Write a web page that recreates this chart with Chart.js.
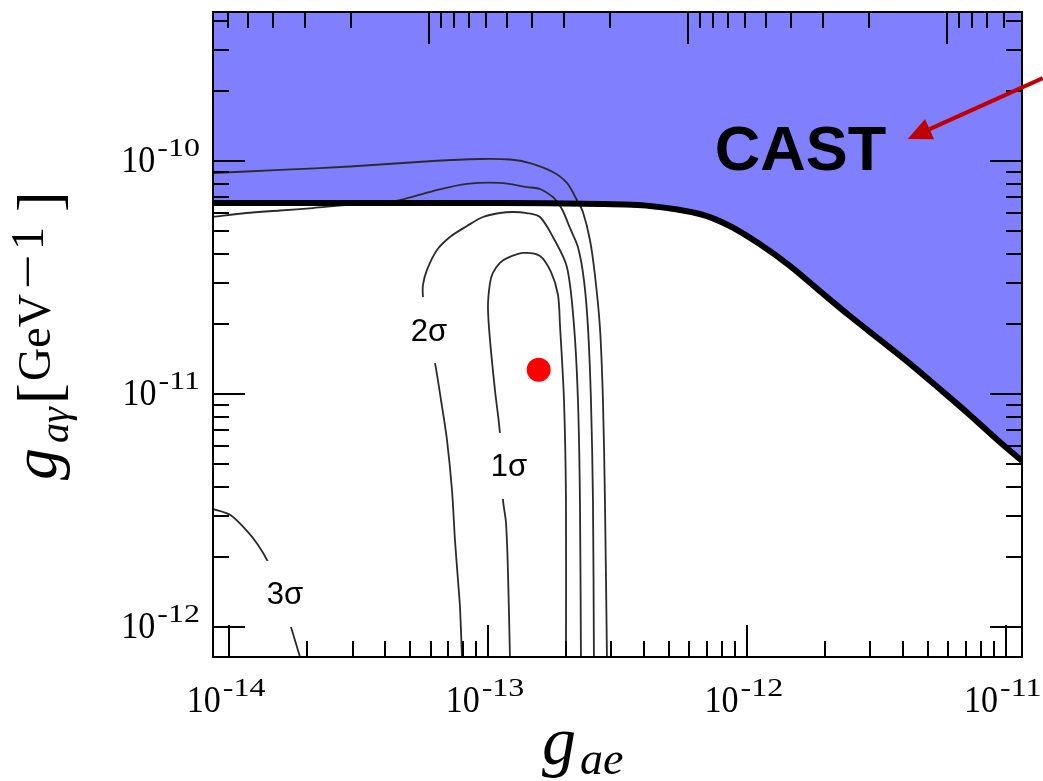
<!DOCTYPE html>
<html>
<head>
<meta charset="utf-8">
<script src="https://cdn.jsdelivr.net/npm/chart.js@4.4.1/dist/chart.umd.min.js"></script>
<style>
  html, body { margin: 0; padding: 0; background: #fff; }
  #wrap { width: 1043px; height: 781px; position: relative; }
</style>
</head>
<body>
<div id="wrap"><canvas id="chart"></canvas></div>
<script>
// Axis ranges (g_ae horizontally, g_a-gamma vertically, both log)
const X_MIN = 8.67e-15, X_MAX = 1.155e-11;
const Y_MIN = 7.43e-13, Y_MAX = 4.36e-10;

// Labelled decades
const xTickValues = [1e-14, 1e-13, 1e-12, 1e-11];
const xTickExponents = ['-14', '-13', '-12', '-11'];
const yTickValues = [1e-12, 1e-11, 1e-10];
const yTickExponents = ['-12', '-11', '-10'];

// Top frame carries a reciprocal log axis; its unit sits at this g_ae
const TOP_AXIS_UNIT = 5.92e-14;

// CAST exclusion boundary (region above is excluded)
const castX = [8.67e-15, 2.93e-14, 1.11e-13, 2.71e-13, 4.22e-13, 6.58e-13, 8.59e-13, 1.12e-12, 1.47e-12,
  1.91e-12, 2.50e-12, 3.26e-12, 4.26e-12, 5.56e-12, 7.26e-12, 9.48e-12, 1.155e-11];
const castY = [6.60e-11, 6.60e-11, 6.60e-11, 6.54e-11, 6.41e-11, 5.92e-11, 5.26e-11, 4.40e-11, 3.54e-11,
  2.77e-11, 2.16e-11, 1.71e-11, 1.35e-11, 1.05e-11, 8.13e-12, 6.22e-12, 5.16e-12];

// Upper contours running in from the left edge
const upperOuterX = [8.67e-15, 1.574e-14, 2.932e-14, 6.133e-14, 9.314e-14, 1.216e-13, 1.453e-13, 1.782e-13,
  2.018e-13, 2.206e-13, 2.327e-13, 2.477e-13, 2.589e-13, 2.706e-13, 2.780e-13, 2.830e-13, 2.881e-13];
const upperOuterY = [8.88e-11, 9.15e-11, 9.47e-11, 1.00e-10, 1.02e-10, 1.015e-10, 9.80e-11, 8.97e-11,
  8.05e-11, 6.80e-11, 6.04e-11, 4.58e-11, 3.24e-11, 1.94e-11, 9.42e-12, 3.51e-12, 7.43e-13];

const upperInnerX = [8.67e-15, 1.163e-14, 1.574e-14, 2.110e-14, 2.830e-14, 3.662e-14, 4.573e-14, 6.133e-14,
  8.296e-14, 1.112e-13, 1.414e-13, 1.588e-13, 1.782e-13, 1.864e-13, 1.948e-13, 2.073e-13, 2.226e-13,
  2.348e-13, 2.433e-13, 2.499e-13, 2.544e-13, 2.566e-13];
const upperInnerY = [5.75e-11, 5.98e-11, 6.13e-11, 6.28e-11, 6.47e-11, 6.57e-11, 6.80e-11, 7.43e-11,
  7.97e-11, 8.05e-11, 7.73e-11, 7.58e-11, 7.00e-11, 6.60e-11, 6.10e-11, 5.16e-11, 4.27e-11,
  3.08e-11, 1.94e-11, 9.42e-12, 3.51e-12, 7.43e-13];

// 2 sigma contour, from the bottom edge up and back down
const twoSigmaX = [7.936e-14, 7.796e-14, 7.659e-14, 7.457e-14, 7.261e-14, 6.945e-14, 6.585e-14, 6.244e-14,
  5.97e-14, 5.71e-14, 5.61e-14, 5.61e-14, 5.814e-14, 6.355e-14, 7.133e-14, 8.296e-14, 9.566e-14,
  1.112e-13, 1.249e-13, 1.414e-13, 1.588e-13, 1.782e-13, 2.018e-13, 2.148e-13, 2.226e-13, 2.266e-13, 2.286e-13];
const twoSigmaY = [7.43e-13, 1.22e-12, 1.59e-12, 2.36e-12, 3.87e-12, 6.35e-12, 9.42e-12, 1.36e-11,
  1.71e-11, 2.29e-11, 2.61e-11, 2.94e-11, 3.41e-11, 4.15e-11, 4.72e-11, 5.26e-11, 5.75e-11,
  5.98e-11, 6.04e-11, 5.98e-11, 5.75e-11, 4.72e-11, 3.51e-11, 1.98e-11, 9.42e-12, 3.51e-12, 7.43e-13];

// 1 sigma contour around the best fit
const oneSigmaX = [1.216e-13, 1.195e-13, 1.174e-13, 1.143e-13, 1.112e-13, 1.064e-13, 1.018e-13, 1.000e-13,
  1.018e-13, 1.045e-13, 1.112e-13, 1.184e-13, 1.365e-13, 1.588e-13, 1.751e-13, 1.864e-13, 1.897e-13,
  1.966e-13, 2.001e-13, 2.001e-13];
const oneSigmaY = [7.43e-13, 1.71e-12, 2.80e-12, 3.51e-12, 6.80e-12, 1.04e-11, 1.71e-11, 2.36e-11,
  2.99e-11, 3.31e-11, 3.65e-11, 3.83e-11, 4.03e-11, 3.91e-11, 3.34e-11, 2.66e-11, 1.98e-11,
  9.42e-12, 3.51e-12, 7.43e-13];

// 3 sigma contour in the lower left corner
const threeSigmaX = [8.67e-15, 1.009e-14, 1.163e-14, 1.294e-14, 1.415e-14, 1.546e-14, 1.645e-14, 1.735e-14, 1.880e-14];
const threeSigmaY = [3.21e-12, 3.03e-12, 2.61e-12, 2.25e-12, 1.90e-12, 1.51e-12, 1.24e-12, 1.00e-12, 7.43e-13];

// Best fit point
const bestFitX = [1.57e-13];
const bestFitY = [1.27e-11];

// Contour labels, anchored at their centres
const sigmaLabels = ['1σ', '2σ', '3σ'];
const sigmaLabelX = [1.205e-13, 5.92e-14, 1.645e-14];
const sigmaLabelY = [4.91e-12, 1.88e-11, 1.386e-12];

// CAST annotation and its arrow
const castLabel = 'CAST';
const castLabelAt = [7.52e-13, 9.15e-11];
const arrowTail = [1.39e-11, 2.27e-10];
const arrowTip = [4.18e-12, 1.243e-10];

const SERIF = '"Liberation Serif", "Times New Roman", serif';

const pts = (xs, ys) => xs.map((v, i) => ({ x: v, y: ys[i] }));

const contour = (xs, ys) => ({
  data: pts(xs, ys),
  borderColor: '#2b2b2b',
  borderWidth: 1.8,
  pointRadius: 0,
  tension: 0.3,
  fill: false,
  clip: 0,
  order: 2
});

// draw "10" with a raised exponent
function drawPower(ctx, exp, anchorX, baseline, align) {
  ctx.font = '34px ' + SERIF;
  const wBase = ctx.measureText('10').width;
  ctx.font = '32px ' + SERIF;
  const wExp = ctx.measureText(exp).width;
  const total = wBase + 2 + wExp;
  const left = align === 'right' ? anchorX - total : anchorX - total / 2;

  ctx.save();
  ctx.translate(left, baseline);
  ctx.scale(1, 1.1);
  ctx.font = '34px ' + SERIF;
  ctx.fillText('10', 0, 0);
  ctx.restore();

  ctx.save();
  ctx.translate(left + wBase + 2, baseline - 16);
  ctx.scale(1, 0.8);
  ctx.font = '32px ' + SERIF;
  ctx.fillText(exp, 0, 0);
  ctx.restore();
}

const overlay = {
  id: 'overlay',
  afterDatasetsDraw(chart) {
    const { ctx, chartArea: area, scales } = chart;
    const x = scales.x, y = scales.y, top = scales.xTop;
    ctx.save();

    // contour labels sit on white patches that break the lines
    ctx.textAlign = 'center';
    ctx.textBaseline = 'middle';
    ctx.font = '31px "Liberation Sans", Arial, sans-serif';
    sigmaLabels.forEach((txt, i) => {
      const px = x.getPixelForValue(sigmaLabelX[i]);
      const py = y.getPixelForValue(sigmaLabelY[i]);
      ctx.fillStyle = '#fff';
      ctx.fillRect(px - 29, py - 33, 58, 66);
      ctx.fillStyle = '#000';
      ctx.fillText(txt, px, py + 2);
    });

    // inward tick marks on all four sides
    ctx.strokeStyle = '#000';
    ctx.lineWidth = 2;
    ctx.beginPath();
    for (let n = -14; n <= -11; n++) {
      for (let k = 1; k <= 9; k++) {
        const v = k * Math.pow(10, n);
        if (v < x.min || v > x.max) continue;
        const p = Math.round(x.getPixelForValue(v));
        const len = k === 1 ? 32 : 16;
        ctx.moveTo(p, area.bottom);
        ctx.lineTo(p, area.bottom - len);
      }
    }
    for (let n = -3; n <= 0; n++) {
      for (let k = 1; k <= 9; k++) {
        const v = k * Math.pow(10, n);
        if (v < top.min || v > top.max) continue;
        const p = Math.round(top.getPixelForValue(v));
        const len = k === 1 ? 32 : 16;
        ctx.moveTo(p, area.top);
        ctx.lineTo(p, area.top + len);
      }
    }
    for (let n = -12; n <= -10; n++) {
      for (let k = 1; k <= 9; k++) {
        const v = k * Math.pow(10, n);
        if (v < y.min || v > y.max) continue;
        const p = Math.round(y.getPixelForValue(v));
        const len = k === 1 ? 32 : 16;
        ctx.moveTo(area.left, p);
        ctx.lineTo(area.left + len, p);
        ctx.moveTo(area.right, p);
        ctx.lineTo(area.right - len, p);
      }
    }
    ctx.stroke();
    ctx.strokeRect(area.left, area.top, area.right - area.left, area.bottom - area.top);

    // tick labels
    ctx.fillStyle = '#000';
    ctx.textAlign = 'left';
    ctx.textBaseline = 'alphabetic';
    xTickValues.forEach((v, i) => {
      drawPower(ctx, xTickExponents[i], x.getPixelForValue(v) - 3, area.bottom + 55, 'center');
    });
    yTickValues.forEach((v, i) => {
      drawPower(ctx, yTickExponents[i], area.left - 13, y.getPixelForValue(v) + 11, 'right');
    });

    // axis titles
    ctx.font = 'italic 68px ' + SERIF;
    ctx.fillText('g', 542, 764);
    ctx.font = 'italic 46px ' + SERIF;
    ctx.fillText('ae', 580, 774);

    ctx.save();
    ctx.translate(50, 0);
    ctx.rotate(-Math.PI / 2);
    ctx.font = 'italic 64px ' + SERIF;
    ctx.fillText('g', -480, 6);
    ctx.font = 'italic 40px ' + SERIF;
    ctx.fillText('aγ', -443, 18);
    ctx.font = '62px ' + SERIF;
    ctx.fillText('[', -404, 10);
    ctx.fillText(']', -212, 10);
    ctx.font = '46px ' + SERIF;
    ctx.fillText('GeV', -381, 0);
    ctx.fillText('1', -250, -7);
    ctx.save();
    ctx.translate(-289, -7);
    ctx.scale(1.35, 1);
    ctx.fillText('−', 0, 0);
    ctx.restore();
    ctx.restore();

    // CAST annotation
    ctx.font = 'bold 63px "Liberation Sans", Arial, sans-serif';
    ctx.fillText(castLabel, x.getPixelForValue(castLabelAt[0]), y.getPixelForValue(castLabelAt[1]));

    const ax0 = x.getPixelForValue(arrowTail[0]), ay0 = y.getPixelForValue(arrowTail[1]);
    const ax1 = x.getPixelForValue(arrowTip[0]), ay1 = y.getPixelForValue(arrowTip[1]);
    const ang = Math.atan2(ay1 - ay0, ax1 - ax0);
    const head = 24, half = 11;
    const bx = ax1 - head * Math.cos(ang), by = ay1 - head * Math.sin(ang);
    ctx.strokeStyle = '#c00000';
    ctx.fillStyle = '#c00000';
    ctx.lineWidth = 4;
    ctx.beginPath();
    ctx.moveTo(ax0, ay0);
    ctx.lineTo(bx, by);
    ctx.stroke();
    ctx.beginPath();
    ctx.moveTo(ax1, ay1);
    ctx.lineTo(bx + half * Math.sin(ang), by - half * Math.cos(ang));
    ctx.lineTo(bx - half * Math.sin(ang), by + half * Math.cos(ang));
    ctx.closePath();
    ctx.fill();

    ctx.restore();
  }
};

new Chart(document.getElementById('chart'), {
  type: 'line',
  data: {
    datasets: [
      {
        data: pts(bestFitX, bestFitY),
        showLine: false,
        pointRadius: 12,
        pointBackgroundColor: '#ff0000',
        pointBorderWidth: 0,
        order: 0
      },
      {
        data: pts(castX, castY),
        borderColor: '#000',
        borderWidth: 6,
        backgroundColor: '#8080ff',
        pointRadius: 0,
        tension: 0.3,
        fill: 'end',
        clip: 0,
        order: 1
      },
      contour(upperOuterX, upperOuterY),
      contour(upperInnerX, upperInnerY),
      contour(twoSigmaX, twoSigmaY),
      contour(oneSigmaX, oneSigmaY),
      contour(threeSigmaX, threeSigmaY)
    ]
  },
  options: {
    responsive: true,
    maintainAspectRatio: false,
    animation: false,
    events: [],
    layout: { padding: { left: 213, right: 21, top: 12, bottom: 124 } },
    plugins: {
      legend: { display: false },
      tooltip: { enabled: false },
      filler: { drawTime: 'beforeDatasetsDraw' }
    },
    scales: {
      x: { type: 'logarithmic', display: false, min: X_MIN, max: X_MAX, bounds: 'data' },
      y: { type: 'logarithmic', display: false, min: Y_MIN, max: Y_MAX, bounds: 'data' },
      xTop: {
        type: 'logarithmic', display: false, position: 'top', reverse: true,
        min: TOP_AXIS_UNIT / X_MAX, max: TOP_AXIS_UNIT / X_MIN, bounds: 'data'
      }
    }
  },
  plugins: [overlay]
});
</script>
</body>
</html>
